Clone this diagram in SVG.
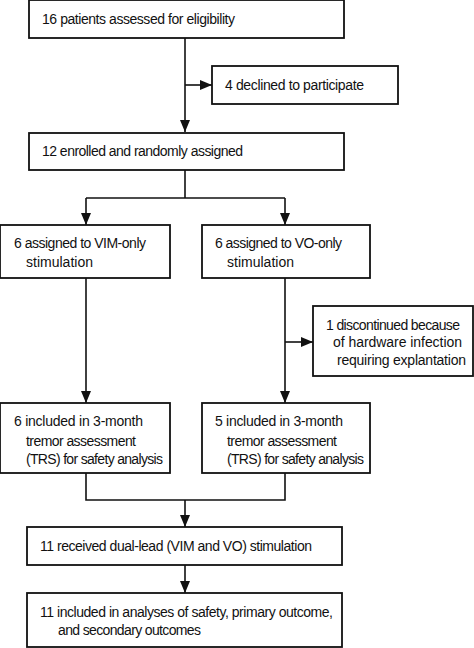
<svg xmlns="http://www.w3.org/2000/svg" width="474" height="648" viewBox="0 0 474 648">
<defs>
<marker id="ah" viewBox="0 0 12 10" refX="12" refY="5" markerWidth="12" markerHeight="10" markerUnits="userSpaceOnUse" orient="auto">
<path d="M0,0 L12,5 L0,10 Z" fill="#111"/>
</marker>
<style>
.box{fill:#fff;stroke:#111;stroke-width:1.8}
.ln{fill:none;stroke:#111;stroke-width:1.6}
.ar{fill:none;stroke:#111;stroke-width:1.6;marker-end:url(#ah)}
text{font-family:"Liberation Sans",Arial,sans-serif;font-size:14px;fill:#111}
</style>
</defs>
<rect width="474" height="648" fill="#fff"/>
<g id="connectors">
<path class="ar" d="M185,38 V132"/>
<path class="ar" d="M185,85 H212"/>
<path class="ln" d="M185,170 V198"/>
<path class="ln" d="M86,198 H285"/>
<path class="ar" d="M86,198 V225"/>
<path class="ar" d="M285,198 V225"/>
<path class="ar" d="M86,278 V403"/>
<path class="ar" d="M285,278 V403"/>
<path class="ar" d="M285,342 H313"/>
<path class="ln" d="M86,473 V500 H285 V473"/>
<path class="ar" d="M185,500 V527"/>
<path class="ar" d="M185,565 V593"/>
</g>
<g id="n1"><rect class="box" x="29" y="0" width="315" height="38"/><text x="42" y="24" textLength="193" lengthAdjust="spacing">16 patients assessed for eligibility</text></g>
<g id="n2"><rect class="box" x="212" y="66" width="186" height="38"/><text x="225" y="90" textLength="139" lengthAdjust="spacing">4 declined to participate</text></g>
<g id="n3"><rect class="box" x="29" y="133" width="315" height="37"/><text x="42" y="156" textLength="201" lengthAdjust="spacing">12 enrolled and randomly assigned</text></g>
<g id="n4"><rect class="box" x="0" y="225" width="170" height="53"/><text x="14" y="248" textLength="132" lengthAdjust="spacing">6 assigned to VIM-only</text><text x="26" y="267" textLength="67" lengthAdjust="spacing">stimulation</text></g>
<g id="n5"><rect class="box" x="202" y="225" width="168" height="53"/><text x="215" y="248" textLength="127" lengthAdjust="spacing">6 assigned to VO-only</text><text x="227" y="267" textLength="67" lengthAdjust="spacing">stimulation</text></g>
<g id="n6"><rect class="box" x="313" y="306" width="160" height="70"/><text x="326" y="330" textLength="134" lengthAdjust="spacing">1 discontinued because</text><text x="333" y="347" textLength="129" lengthAdjust="spacing">of hardware infection</text><text x="337" y="365" textLength="129" lengthAdjust="spacing">requiring explantation</text></g>
<g id="n7"><rect class="box" x="0" y="403" width="170" height="70"/><text x="14" y="426" textLength="129" lengthAdjust="spacing">6 included in 3-month</text><text x="26" y="446" textLength="110" lengthAdjust="spacing">tremor assessment</text><text x="26" y="464" textLength="137" lengthAdjust="spacing">(TRS) for safety analysis</text></g>
<g id="n8"><rect class="box" x="202" y="403" width="168" height="70"/><text x="215" y="426" textLength="128" lengthAdjust="spacing">5 included in 3-month</text><text x="227" y="446" textLength="110" lengthAdjust="spacing">tremor assessment</text><text x="227" y="464" textLength="137" lengthAdjust="spacing">(TRS) for safety analysis</text></g>
<g id="n9"><rect class="box" x="27" y="527" width="315" height="38"/><text x="40" y="551" textLength="272" lengthAdjust="spacing">11 received dual-lead (VIM and VO) stimulation</text></g>
<g id="n10"><rect class="box" x="27" y="593" width="315" height="54"/><text x="40" y="617" textLength="293" lengthAdjust="spacing">11 included in analyses of safety, primary outcome,</text><text x="58" y="635" textLength="143" lengthAdjust="spacing">and secondary outcomes</text></g>
</svg>
